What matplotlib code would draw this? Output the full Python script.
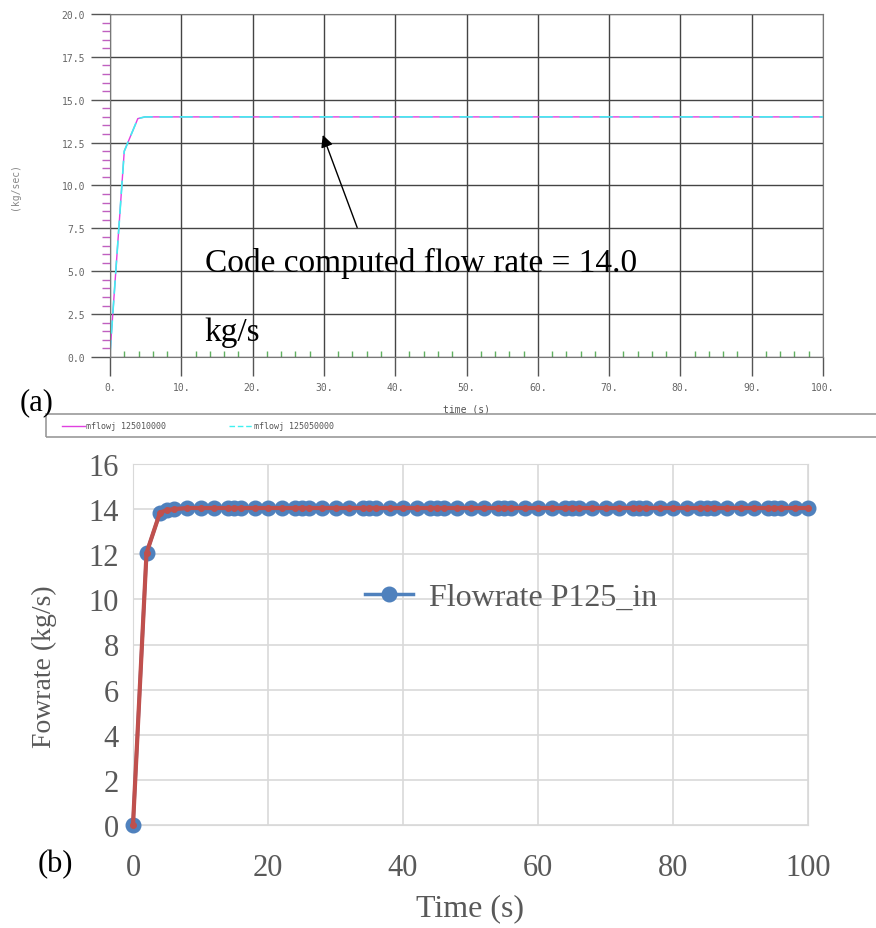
import matplotlib
matplotlib.use("Agg")
import matplotlib.pyplot as plt
from matplotlib.patches import Rectangle
from matplotlib.lines import Line2D

# (a) code output
time_a = [0.0, 2.0, 3.9, 4.9, 10.0, 100.0]
flow_a = [0.2, 12.0, 13.9, 14.0, 14.0, 14.0]
xticks_a = [0, 10, 20, 30, 40, 50, 60, 70, 80, 90, 100]
xlabels_a = ["0.", "10.", "20.", "30.", "40.", "50.", "60.", "70.", "80.", "90.", "100."]
yticks_a = [0.0, 2.5, 5.0, 7.5, 10.0, 12.5, 15.0, 17.5, 20.0]
ylabels_a = ["0.0", "2.5", "5.0", "7.5", "10.0", "12.5", "15.0", "17.5", "20.0"]
legend_a = ["mflowj 125010000", "mflowj 125050000"]

# (b) flowrate P125_in
time_b = [0, 2, 4, 5, 6, 8, 10, 12, 14, 15,
          16, 18, 20, 22, 24, 25, 26, 28, 30, 32,
          34, 35, 36, 38, 40, 42, 44, 45, 46, 48,
          50, 52, 54, 55, 56, 58, 60, 62, 64, 65,
          66, 68, 70, 72, 74, 75, 76, 78, 80, 82,
          84, 85, 86, 88, 90, 92, 94, 95, 96, 98,
          100]
flow_b = [0.0, 12.05, 13.85, 13.95, 14.0, 14.05, 14.05, 14.05, 14.05, 14.05,
          14.05, 14.05, 14.05, 14.05, 14.05, 14.05, 14.05, 14.05, 14.05, 14.05,
          14.05, 14.05, 14.05, 14.05, 14.05, 14.05, 14.05, 14.05, 14.05, 14.05,
          14.05, 14.05, 14.05, 14.05, 14.05, 14.05, 14.05, 14.05, 14.05, 14.05,
          14.05, 14.05, 14.05, 14.05, 14.05, 14.05, 14.05, 14.05, 14.05, 14.05,
          14.05, 14.05, 14.05, 14.05, 14.05, 14.05, 14.05, 14.05, 14.05, 14.05,
          14.05]

mono = "DejaVu Sans Mono"
serif = "Liberation Serif"
W, H = 876, 929

fig = plt.figure(figsize=(W / 100, H / 100), dpi=100)

# ---- panel (a) ----
ax1 = fig.add_axes([110 / W, 1 - 358 / H, 713 / W, 343 / H])
ax1.plot(time_a, flow_a, color="#e040e0", lw=1.0)
ax1.plot(time_a, flow_a, color="#40f0f0", lw=1.2, ls=(0, (8, 4)))
ax1.set_xlim(0, 100)
ax1.set_ylim(0, 20)
ax1.set_xticks(xticks_a)
ax1.set_xticklabels(xlabels_a)
ax1.set_yticks(yticks_a)
ax1.set_yticklabels(ylabels_a)
ax1.set_xticks(range(0, 101, 2), minor=True)
ax1.set_yticks([v / 2 for v in range(0, 41)], minor=True)
ax1.grid(True, color="#444444", lw=1.0)
ax1.tick_params(which="major", direction="out", length=14, width=1.0,
                color="#555555", labelsize=7, labelcolor="#666666", pad=4)
ax1.tick_params(axis="x", which="minor", direction="in", length=4,
                color="#60b060", width=1.0)
ax1.tick_params(axis="y", which="minor", direction="out", length=6,
                color="#c060c0", width=1.0)
for lab in ax1.get_xticklabels() + ax1.get_yticklabels():
    lab.set_family(mono)
for s in ax1.spines.values():
    s.set_color("#777777")
ax1.set_xlabel("time (s)", family=mono, fontsize=7, color="#555555", labelpad=8)
ax1.set_ylabel("(kg/sec)", family=mono, fontsize=7, color="#888888", labelpad=30)
ax1.text(13.3, 5.0, "Code computed flow rate = 14.0", family=serif,
         fontsize=24, va="baseline")
ax1.text(13.3, 1.0, "kg/s", family=serif, fontsize=24, va="baseline")
ax1.annotate("", xy=(29.7, 13.1), xytext=(34.8, 7.4),
             arrowprops=dict(arrowstyle="-|>", color="black", lw=1.0,
                             mutation_scale=18))

fig.text(20 / W, 1 - 410 / H, "(a)", family=serif, fontsize=22)

# legend strip below panel (a)
fig.patches.append(Rectangle((46 / W, 1 - 438 / H), 840 / W, 23 / H,
                             transform=fig.transFigure, fill=False,
                             edgecolor="#999999", lw=1.2))
fig.lines.append(Line2D([62 / W, 85 / W], [1 - 427 / H] * 2,
                        transform=fig.transFigure, color="#e040e0", lw=1.0))
fig.lines.append(Line2D([229 / W, 253 / W], [1 - 427 / H] * 2,
                        transform=fig.transFigure, color="#40f0f0", lw=1.0,
                        ls=(0, (4, 2))))
fig.text(86 / W, 1 - 427 / H, legend_a[0], family=mono, fontsize=6,
         color="#555555", va="center")
fig.text(254 / W, 1 - 427 / H, legend_a[1], family=mono, fontsize=6,
         color="#555555", va="center")

# ---- panel (b) ----
ax2 = fig.add_axes([133 / W, 1 - 826 / H, 675 / W, 361 / H])
ax2.plot(time_b, flow_b, color="#4f81bd", lw=2.5, marker="o", ms=10.5,
         label="Flowrate P125_in", zorder=3, clip_on=False)
ax2.plot(time_b, flow_b, color="#c0504d", lw=3, marker="o", ms=4, zorder=4,
         clip_on=False)
ax2.set_xlim(0, 100)
ax2.set_ylim(0, 16)
ax2.set_xticks(range(0, 101, 20))
ax2.set_yticks(range(0, 17, 2))
ax2.grid(True, color="#d9d9d9", lw=1.2)
ax2.set_axisbelow(True)
for s in ax2.spines.values():
    s.set_color("#d9d9d9")
ax2.tick_params(length=0, labelsize=22, labelcolor="#595959")
ax2.tick_params(axis="x", pad=20)
ax2.tick_params(axis="y", pad=10)
for lab in ax2.get_xticklabels() + ax2.get_yticklabels():
    lab.set_family(serif)
ax2.set_xlabel("Time (s)", family=serif, fontsize=23, color="#595959", labelpad=8)
ax2.set_ylabel("Fowrate (kg/s)", family=serif, fontsize=20, color="#595959")
ax2.yaxis.set_label_coords(-0.113, 0.44)
leg = ax2.legend(loc="center", bbox_to_anchor=(0.56, 0.63), frameon=False,
                 prop={"family": serif, "size": 23}, handlelength=1.5,
                 handletextpad=0.5, labelcolor="#595959")

fig.text(38 / W, 1 - 872 / H, "(b)", family=serif, fontsize=22)

fig.savefig("out.png", dpi=100)
